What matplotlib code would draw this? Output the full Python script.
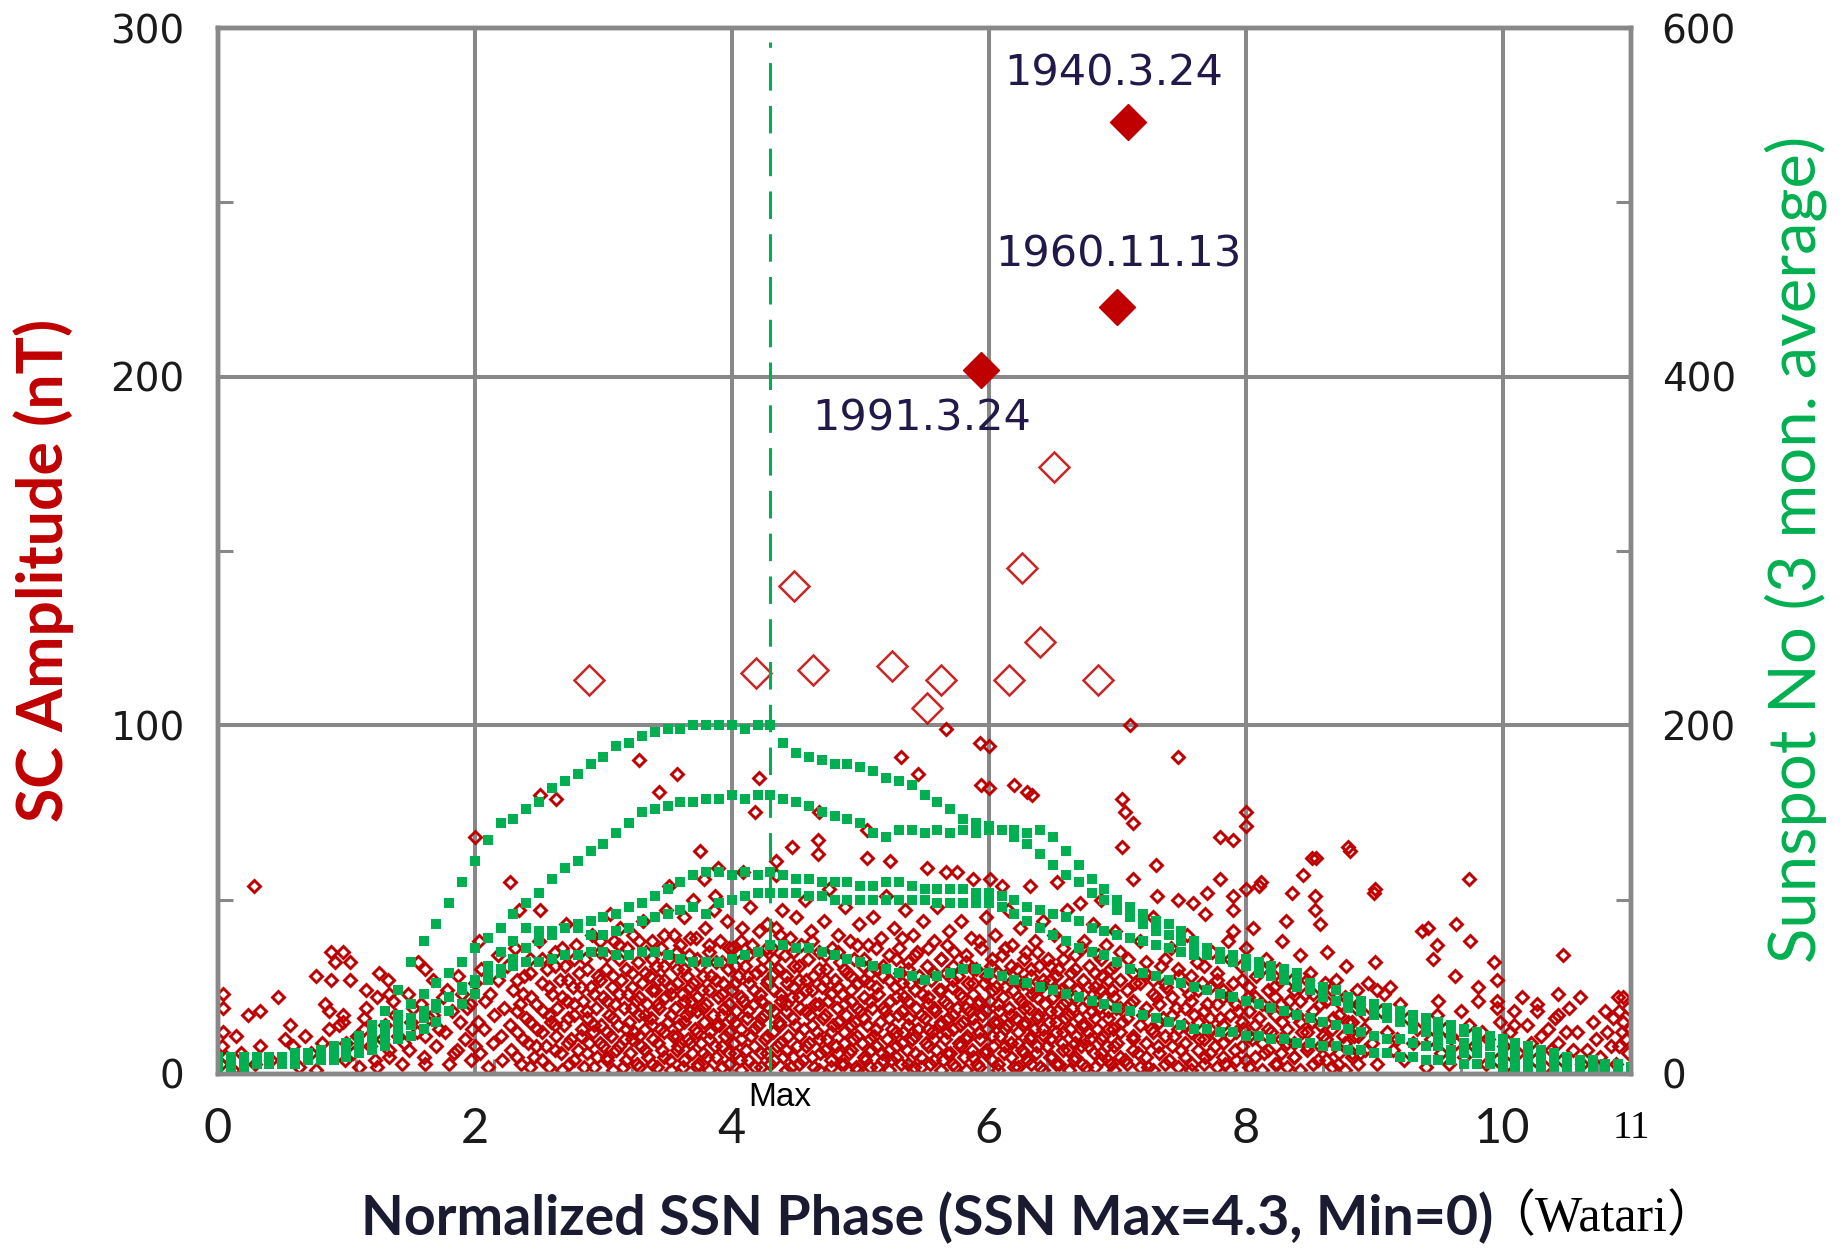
import numpy as np
import matplotlib
matplotlib.use("Agg")
import matplotlib.pyplot as plt
from matplotlib import font_manager as fm
from matplotlib.transforms import blended_transform_factory

# normalized phase grid of the sunspot curves (0 = min, 4.3 = max, 11 = next min)
phase = np.round(np.arange(111) * 0.1, 1)

# sunspot number, 3-month running mean, one list per solar cycle
ssn_a = [8, 8, 8, 10, 10, 10, 12, 12, 14, 16, 18,
         22, 28, 36, 48, 64, 76, 86, 98, 110, 122,
         134, 144, 146, 152, 156, 164, 168, 172, 178, 182,
         188, 190, 194, 196, 198, 198, 200, 200, 200, 200,
         198, 200, 200, 190, 184, 182, 180, 178, 178, 176,
         174, 170, 168, 166, 160, 156, 152, 146, 144, 142,
         140, 140, 138, 140, 136, 128, 120, 112, 106, 100,
         96, 92, 88, 86, 82, 76, 72, 70, 68, 66,
         64, 62, 60, 58, 52, 46, 42, 40, 38, 36,
         34, 32, 30, 28, 26, 26, 24, 22, 20, 18,
         16, 14, 12, 10, 10, 8, 8, 6, 6, 4]
ssn_b = [6, 6, 6, 8, 8, 10, 10, 12, 12, 14, 16,
         20, 24, 28, 34, 40, 46, 52, 58, 64, 72,
         78, 84, 92, 98, 104, 112, 118, 122, 128, 132,
         138, 144, 150, 152, 154, 156, 156, 158, 158, 160,
         158, 160, 160, 158, 156, 154, 150, 148, 146, 144,
         138, 136, 140, 140, 138, 140, 138, 140, 138, 140,
         140, 136, 132, 126, 120, 114, 110, 104, 100, 94,
         90, 86, 82, 80, 76, 74, 70, 66, 64, 62,
         58, 56, 54, 50, 48, 44, 42, 38, 36, 34,
         32, 30, 26, 24, 22, 20, 18, 18, 16, 14,
         12, 12, 10, 10, 8, 8, 6, 6, 4, 4]
ssn_c = [4, 4, 6, 6, 6, 8, 8, 10, 10, 12, 14,
         16, 20, 24, 28, 32, 36, 40, 44, 50, 54,
         62, 70, 76, 84, 82, 82, 84, 86, 88, 90,
         92, 96, 98, 102, 106, 110, 114, 116, 116, 114,
         116, 114, 116, 114, 112, 112, 110, 110, 110, 108,
         108, 110, 110, 108, 106, 106, 106, 106, 104, 104,
         102, 100, 96, 94, 92, 90, 88, 84, 82, 80,
         78, 76, 74, 72, 70, 68, 68, 66, 64, 62,
         60, 58, 56, 54, 52, 50, 48, 44, 42, 40,
         38, 36, 34, 32, 30, 28, 26, 24, 22, 20,
         18, 16, 14, 12, 10, 8, 6, 6, 4, 2]
ssn_d = [10, 10, 10, 10, 8, 8, 8, 8, 8, 10, 10,
         12, 14, 16, 20, 22, 26, 30, 36, 40, 46,
         54, 60, 66, 72, 76, 80, 84, 84, 80, 80,
         82, 84, 88, 90, 92, 94, 96, 92, 98, 100,
         102, 104, 104, 104, 104, 102, 102, 100, 100, 100,
         100, 100, 100, 100, 100, 98, 98, 98, 98, 98,
         96, 92, 88, 84, 80, 76, 72, 70, 68, 64,
         60, 58, 56, 54, 52, 50, 48, 46, 44, 42,
         40, 38, 36, 34, 32, 30, 28, 26, 24, 22,
         20, 20, 18, 16, 16, 14, 12, 12, 10, 10,
         8, 8, 6, 6, 6, 4, 4, 4, 2, 2]
ssn_e = [4, 4, 4, 6, 6, 6, 6, 8, 8, 8, 10,
         12, 16, 20, 24, 28, 32, 38, 44, 48, 52,
         56, 58, 62, 64, 64, 66, 68, 68, 70, 70,
         68, 68, 70, 70, 68, 66, 64, 64, 64, 66,
         68, 70, 74, 74, 72, 72, 70, 68, 66, 64,
         62, 60, 58, 56, 54, 56, 58, 60, 60, 58,
         56, 54, 52, 50, 48, 46, 44, 42, 40, 38,
         36, 34, 32, 30, 28, 26, 26, 24, 24, 22,
         22, 20, 20, 18, 18, 16, 16, 14, 14, 12,
         12, 10, 10, 8, 8, 8, 6, 6, 6, 4,
         4, 4, 4, 2, 2, 2, 2, 2, 2, 2]
ssn_cycles = [ssn_a, ssn_b, ssn_c, ssn_d, ssn_e]

# SC events: (phase, amplitude nT), grouped by phase
sc_0 = [(0.02, 3), (0.03, 8), (0.04, 12), (0.04, 19), (0.04, 23), (0.06, 5), (0.12, 1), (0.14, 11),
        (0.18, 6), (0.23, 17), (0.28, 54), (0.29, 3), (0.33, 18), (0.33, 8), (0.41, 4), (0.47, 22),
        (0.52, 10), (0.56, 14), (0.58, 8), (0.63, 2), (0.68, 11), (0.72, 6), (0.76, 28), (0.76, 1),
        (0.81, 9), (0.83, 20), (0.86, 18), (0.86, 13), (0.88, 27), (0.88, 35), (0.91, 32), (0.94, 14),
        (0.97, 35), (0.97, 17), (0.97, 15), (0.99, 4), (1.00, 9)]
sc_1 = [(1.03, 27), (1.03, 32), (1.05, 6), (1.08, 11), (1.1, 2), (1.14, 16), (1.14, 13), (1.15, 24),
        (1.15, 19), (1.18, 8), (1.22, 4), (1.24, 22), (1.24, 2), (1.25, 29), (1.28, 10), (1.3, 14),
        (1.32, 27), (1.33, 23), (1.33, 5), (1.33, 7), (1.36, 21), (1.38, 17), (1.4, 11), (1.43, 3),
        (1.45, 9), (1.48, 23), (1.49, 7), (1.5, 15), (1.52, 19), (1.55, 12), (1.56, 32), (1.58, 20),
        (1.6, 5), (1.61, 30), (1.61, 11), (1.61, 3), (1.64, 16), (1.67, 27), (1.67, 17), (1.7, 8),
        (1.72, 13), (1.75, 22), (1.77, 12), (1.78, 24), (1.8, 3), (1.82, 18), (1.84, 6), (1.86, 7),
        (1.87, 28), (1.88, 15), (1.9, 23), (1.92, 10), (1.94, 19), (1.96, 20), (1.97, 4), (1.98, 13),
        (2.0, 26), (2.0, 8), (2.0, 68)]
sc_2 = [(2.02, 15), (2.03, 38), (2.04, 6), (2.05, 30), (2.07, 13), (2.08, 21), (2.1, 2), (2.12, 23),
        (2.14, 9), (2.15, 17), (2.18, 34), (2.18, 27), (2.2, 11), (2.21, 4), (2.23, 19), (2.25, 31),
        (2.27, 55), (2.27, 14), (2.28, 7), (2.3, 24), (2.31, 36), (2.33, 12), (2.34, 47), (2.35, 20),
        (2.36, 3), (2.38, 28), (2.4, 16), (2.41, 9), (2.43, 33), (2.44, 22), (2.46, 5), (2.48, 13),
        (2.5, 38), (2.51, 80), (2.51, 47), (2.52, 26), (2.53, 18), (2.55, 8), (2.56, 30), (2.58, 2),
        (2.59, 15), (2.6, 23), (2.62, 35), (2.63, 79), (2.63, 11), (2.64, 19), (2.66, 27), (2.67, 6),
        (2.69, 14), (2.7, 31), (2.71, 43), (2.72, 21), (2.73, 3), (2.75, 10), (2.76, 25), (2.77, 17),
        (2.79, 37), (2.8, 7), (2.81, 29), (2.83, 13), (2.84, 21), (2.85, 2), (2.86, 33), (2.87, 16),
        (2.89, 9), (2.9, 25), (2.91, 40), (2.92, 12), (2.94, 19), (2.95, 5), (2.96, 28), (2.97, 35),
        (2.98, 14), (3.0, 22), (3.0, 8)]
sc_3 = [(3.02, 30), (3.03, 4), (3.04, 17), (3.05, 46), (3.06, 11), (3.07, 25), (3.08, 38), (3.09, 20),
        (3.1, 7), (3.11, 14), (3.12, 33), (3.13, 42), (3.14, 27), (3.15, 2), (3.16, 19), (3.17, 10),
        (3.18, 36), (3.19, 23), (3.2, 15), (3.21, 6), (3.22, 29), (3.23, 40), (3.24, 12), (3.25, 21),
        (3.26, 3), (3.27, 32), (3.28, 90), (3.28, 17), (3.29, 8), (3.3, 26), (3.31, 44), (3.32, 13),
        (3.33, 35), (3.34, 20), (3.35, 5), (3.36, 28), (3.37, 16), (3.38, 38), (3.39, 10), (3.4, 24),
        (3.41, 31), (3.42, 2), (3.43, 81), (3.43, 19), (3.44, 13), (3.45, 36), (3.46, 7), (3.47, 27),
        (3.48, 22), (3.49, 47), (3.5, 15), (3.51, 54), (3.51, 33), (3.52, 4), (3.53, 25), (3.54, 11),
        (3.55, 40), (3.56, 19), (3.57, 86), (3.57, 30), (3.58, 8), (3.59, 14), (3.6, 37), (3.61, 23),
        (3.62, 2), (3.63, 45), (3.64, 17), (3.65, 28), (3.66, 10), (3.67, 34), (3.68, 21), (3.69, 6),
        (3.7, 50), (3.7, 26), (3.71, 13), (3.72, 39), (3.73, 18), (3.74, 3), (3.75, 64), (3.75, 31),
        (3.76, 9), (3.77, 24), (3.78, 56), (3.78, 15), (3.79, 42), (3.8, 20), (3.81, 5), (3.82, 35),
        (3.83, 12), (3.84, 28), (3.85, 17), (3.86, 47), (3.87, 51), (3.87, 8), (3.88, 32), (3.89, 59),
        (3.89, 22), (3.9, 14), (3.91, 38), (3.92, 2), (3.93, 26), (3.94, 19), (3.95, 11), (3.96, 44),
        (3.97, 30), (3.98, 6), (3.99, 16)]
sc_4 = [(4.0, 24), (4.01, 36), (4.02, 9), (4.03, 18), (4.04, 35), (4.05, 28), (4.06, 4), (4.07, 13),
        (4.08, 42), (4.09, 58), (4.09, 21), (4.1, 31), (4.11, 7), (4.12, 16), (4.13, 26), (4.14, 48),
        (4.15, 11), (4.16, 37), (4.17, 20), (4.18, 75), (4.18, 2), (4.19, 29), (4.2, 14), (4.21, 85),
        (4.21, 41), (4.22, 23), (4.23, 6), (4.24, 33), (4.25, 17), (4.26, 10), (4.27, 43), (4.28, 27),
        (4.29, 19), (4.3, 3), (4.31, 36), (4.32, 12), (4.33, 24), (4.34, 61), (4.34, 57), (4.34, 42),
        (4.35, 8), (4.36, 30), (4.37, 15), (4.38, 21), (4.39, 47), (4.4, 5), (4.41, 34), (4.42, 18),
        (4.43, 26), (4.44, 11), (4.45, 39), (4.46, 2), (4.47, 65), (4.47, 22), (4.48, 31), (4.49, 14),
        (4.5, 45), (4.51, 8), (4.52, 27), (4.53, 19), (4.54, 37), (4.55, 4), (4.56, 13), (4.57, 50),
        (4.58, 24), (4.59, 33), (4.6, 9), (4.61, 17), (4.62, 41), (4.63, 28), (4.64, 2), (4.65, 20),
        (4.66, 12), (4.67, 67), (4.67, 63), (4.68, 75), (4.68, 35), (4.69, 6), (4.7, 25), (4.71, 16),
        (4.72, 44), (4.73, 30), (4.74, 10), (4.75, 21), (4.76, 53), (4.77, 4), (4.78, 36), (4.79, 14),
        (4.8, 27), (4.81, 8), (4.82, 19), (4.83, 40), (4.84, 32), (4.85, 3), (4.86, 23), (4.87, 12),
        (4.88, 48), (4.89, 17), (4.9, 29), (4.91, 6), (4.92, 38), (4.93, 21), (4.94, 10), (4.95, 33),
        (4.96, 15), (4.97, 2), (4.98, 26), (4.99, 43)]
sc_5 = [(5.0, 18), (5.01, 9), (5.02, 31), (5.03, 22), (5.04, 4), (5.05, 62), (5.05, 70), (5.05, 14),
        (5.06, 37), (5.07, 26), (5.08, 7), (5.09, 19), (5.1, 45), (5.11, 11), (5.12, 30), (5.13, 2),
        (5.14, 23), (5.15, 15), (5.16, 39), (5.17, 6), (5.18, 28), (5.19, 18), (5.2, 51), (5.21, 10),
        (5.22, 34), (5.23, 61), (5.23, 21), (5.24, 4), (5.25, 13), (5.26, 42), (5.27, 25), (5.28, 8),
        (5.29, 17), (5.3, 36), (5.31, 29), (5.32, 91), (5.32, 3), (5.33, 12), (5.34, 22), (5.35, 47),
        (5.36, 7), (5.37, 32), (5.38, 16), (5.39, 26), (5.4, 10), (5.41, 40), (5.42, 2), (5.43, 19),
        (5.44, 35), (5.45, 86), (5.45, 13), (5.46, 28), (5.47, 5), (5.48, 23), (5.49, 44), (5.5, 16),
        (5.51, 9), (5.52, 59), (5.52, 31), (5.53, 20), (5.54, 3), (5.55, 27), (5.56, 12), (5.57, 38),
        (5.58, 18), (5.59, 7), (5.6, 48), (5.61, 24), (5.62, 14), (5.63, 33), (5.64, 4), (5.65, 21),
        (5.66, 10), (5.67, 99), (5.67, 58), (5.67, 29), (5.68, 16), (5.69, 41), (5.7, 6), (5.71, 25),
        (5.72, 13), (5.73, 35), (5.74, 2), (5.75, 58), (5.75, 19), (5.76, 28), (5.77, 9), (5.78, 44),
        (5.79, 22), (5.8, 15), (5.81, 5), (5.82, 32), (5.83, 11), (5.84, 26), (5.85, 18), (5.86, 39),
        (5.87, 7), (5.88, 56), (5.88, 23), (5.89, 14), (5.9, 30), (5.91, 3), (5.92, 20), (5.93, 95),
        (5.93, 10), (5.94, 83), (5.94, 36), (5.95, 17), (5.96, 26), (5.97, 6), (5.98, 45), (5.99, 13)]
sc_6 = [(6.0, 94), (6.0, 82), (6.01, 56), (6.01, 21), (6.02, 31), (6.03, 8), (6.04, 15), (6.05, 40),
        (6.06, 25), (6.07, 3), (6.08, 18), (6.09, 11), (6.1, 54), (6.1, 34), (6.11, 22), (6.12, 6),
        (6.13, 28), (6.14, 14), (6.15, 47), (6.16, 19), (6.17, 9), (6.18, 37), (6.19, 24), (6.2, 83),
        (6.2, 2), (6.21, 16), (6.22, 30), (6.23, 12), (6.24, 42), (6.25, 21), (6.26, 7), (6.27, 26),
        (6.28, 15), (6.29, 35), (6.3, 81), (6.3, 4), (6.31, 19), (6.32, 54), (6.32, 10), (6.33, 28),
        (6.34, 80), (6.34, 23), (6.35, 13), (6.36, 38), (6.37, 6), (6.38, 17), (6.39, 31), (6.4, 2),
        (6.41, 25), (6.42, 44), (6.43, 11), (6.44, 20), (6.45, 8), (6.46, 33), (6.47, 15), (6.48, 27),
        (6.49, 5), (6.5, 22), (6.51, 40), (6.52, 12), (6.53, 55), (6.53, 18), (6.54, 30), (6.55, 3),
        (6.56, 24), (6.57, 9), (6.58, 36), (6.59, 16), (6.6, 21), (6.61, 47), (6.62, 7), (6.63, 13),
        (6.64, 29), (6.65, 19), (6.66, 4), (6.67, 34), (6.68, 11), (6.69, 24), (6.7, 16), (6.71, 49),
        (6.72, 8), (6.73, 27), (6.74, 38), (6.75, 14), (6.76, 2), (6.77, 21), (6.78, 31), (6.79, 10),
        (6.8, 18), (6.81, 43), (6.82, 6), (6.83, 25), (6.84, 13), (6.85, 34), (6.86, 19), (6.87, 50),
        (6.87, 4), (6.88, 28), (6.89, 11), (6.9, 22), (6.91, 37), (6.92, 8), (6.93, 16), (6.94, 30),
        (6.95, 3), (6.96, 24), (6.97, 13), (6.98, 41), (6.99, 19)]
sc_7 = [(7.0, 9), (7.02, 27), (7.04, 79), (7.04, 65), (7.04, 15), (7.06, 75), (7.06, 4), (7.08, 33),
        (7.1, 100), (7.1, 20), (7.12, 72), (7.12, 56), (7.12, 11), (7.14, 26), (7.16, 6), (7.18, 38),
        (7.2, 17), (7.22, 29), (7.24, 2), (7.26, 13), (7.28, 45), (7.3, 60), (7.3, 22), (7.31, 51),
        (7.32, 8), (7.34, 31), (7.36, 16), (7.38, 25), (7.4, 4), (7.42, 36), (7.44, 11), (7.46, 19),
        (7.47, 91), (7.47, 50), (7.48, 28), (7.5, 7), (7.52, 14), (7.54, 40), (7.56, 23), (7.58, 3),
        (7.59, 49), (7.6, 17), (7.62, 32), (7.64, 10), (7.66, 26), (7.68, 46), (7.68, 5), (7.7, 52),
        (7.7, 20), (7.72, 13), (7.74, 35), (7.76, 8), (7.78, 29), (7.8, 68), (7.8, 56), (7.8, 16),
        (7.82, 22), (7.84, 3), (7.86, 38), (7.88, 11), (7.9, 67), (7.9, 51), (7.9, 47), (7.9, 41),
        (7.9, 26), (7.92, 7), (7.94, 18), (7.96, 31), (7.98, 13), (8.0, 75), (8.0, 71), (8.0, 53),
        (8.0, 36), (8.0, 4)]
sc_8 = [(8.02, 22), (8.05, 10), (8.06, 42), (8.08, 28), (8.1, 54), (8.1, 16), (8.12, 55), (8.14, 6),
        (8.16, 33), (8.18, 19), (8.2, 12), (8.22, 25), (8.24, 3), (8.26, 30), (8.28, 38), (8.28, 15),
        (8.31, 44), (8.32, 9), (8.34, 21), (8.36, 52), (8.36, 27), (8.38, 5), (8.4, 17), (8.42, 34),
        (8.44, 12), (8.45, 57), (8.46, 23), (8.48, 8), (8.5, 29), (8.52, 62), (8.52, 15), (8.54, 51),
        (8.54, 47), (8.55, 62), (8.56, 4), (8.58, 43), (8.58, 20), (8.6, 11), (8.62, 26), (8.63, 35),
        (8.65, 7), (8.68, 16), (8.7, 27), (8.72, 3), (8.74, 20), (8.76, 11), (8.78, 31), (8.8, 65),
        (8.8, 15), (8.81, 64), (8.83, 6), (8.84, 11), (8.86, 19), (8.87, 24), (8.89, 6), (8.92, 13),
        (8.95, 26), (8.98, 9)]
sc_9 = [(9.0, 52), (9.01, 53), (9.01, 32), (9.02, 24), (9.02, 3), (9.05, 18), (9.08, 23), (9.1, 12),
        (9.12, 25), (9.15, 7), (9.18, 10), (9.2, 20), (9.23, 4), (9.26, 16), (9.3, 9), (9.33, 13),
        (9.37, 41), (9.4, 2), (9.42, 42), (9.44, 10), (9.46, 33), (9.49, 37), (9.49, 17), (9.5, 21),
        (9.52, 6), (9.55, 13), (9.58, 3), (9.6, 11), (9.63, 28), (9.64, 43), (9.64, 9), (9.68, 18),
        (9.7, 5), (9.74, 56), (9.74, 14), (9.75, 38), (9.78, 8), (9.81, 25), (9.81, 21), (9.84, 12),
        (9.87, 3), (9.89, 10), (9.93, 32), (9.96, 27), (9.96, 21), (9.96, 19), (9.96, 4), (9.98, 15)]
sc_10 = [(10.01, 8), (10.04, 3), (10.06, 12), (10.09, 18), (10.09, 14), (10.12, 6), (10.15, 22),
         (10.19, 14), (10.22, 9), (10.25, 4), (10.27, 20), (10.27, 18), (10.3, 11), (10.33, 2),
         (10.35, 13), (10.38, 7), (10.41, 16), (10.43, 23), (10.43, 17), (10.43, 9), (10.46, 4),
         (10.47, 34), (10.49, 12), (10.52, 19), (10.55, 7), (10.58, 12), (10.6, 22), (10.62, 3),
         (10.66, 7), (10.7, 15), (10.73, 10), (10.76, 5), (10.8, 18), (10.81, 12), (10.84, 8),
         (10.86, 16), (10.88, 3), (10.9, 22), (10.91, 18), (10.91, 8), (10.93, 12), (10.94, 22),
         (10.94, 15), (10.96, 10), (10.98, 6), (10.98, 19), (10.99, 13)]

# the crowded low-amplitude events, listed as (phase, [amplitudes])
core_2_4 = [(2.325, [5, 18, 27]), (2.375, [10, 23]), (2.425, [2, 15, 29]), (2.475, [8, 20]),
            (2.525, [4, 12, 33]), (2.575, [17, 25]), (2.625, [7, 14, 31]), (2.675, [1, 22, 36]),
            (2.725, [9, 16, 27]), (2.775, [4, 20, 33]), (2.825, [11, 25]), (2.875, [6, 18, 30]),
            (2.925, [2, 14, 23]), (2.975, [9, 27, 38]), (3.025, [5, 12, 21, 34]), (3.075, [1, 16, 28]),
            (3.125, [8, 23, 37]), (3.175, [4, 13, 30]), (3.225, [10, 19, 25]), (3.275, [2, 11, 22, 38]),
            (3.325, [7, 17, 29]), (3.375, [3, 14, 24, 33]), (3.425, [9, 20, 27]), (3.475, [5, 12, 31, 40]),
            (3.525, [1, 17, 23]), (3.575, [7, 11, 26, 35]), (3.625, [4, 15, 21, 30]),
            (3.675, [9, 18, 25, 39]), (3.725, [2, 12, 22, 33]), (3.775, [6, 19, 28]),
            (3.825, [1, 10, 24, 37]), (3.875, [5, 14, 27]), (3.925, [8, 17, 23, 32]),
            (3.975, [3, 12, 20, 36])]
core_4_6 = [(4.025, [6, 15, 26, 31]), (4.075, [1, 10, 22, 38]), (4.125, [4, 18, 28, 34]),
            (4.175, [8, 13, 24]), (4.225, [2, 16, 21, 30]), (4.275, [6, 11, 26, 36]),
            (4.325, [4, 18, 29, 33]), (4.375, [9, 14, 23, 40]), (4.425, [1, 7, 20, 28]),
            (4.475, [5, 16, 25, 35]), (4.525, [3, 11, 22, 31]), (4.575, [8, 18, 27]),
            (4.625, [5, 14, 24, 38]), (4.675, [1, 10, 20, 30]), (4.725, [7, 17, 27, 34]),
            (4.775, [2, 12, 23]), (4.825, [6, 15, 25, 35]), (4.875, [3, 9, 20, 30]),
            (4.925, [7, 14, 24, 28]), (4.975, [1, 11, 19, 37]), (5.025, [5, 16, 27, 33]),
            (5.075, [2, 10, 21, 29]), (5.125, [8, 13, 25, 36]), (5.175, [4, 19, 31]),
            (5.225, [1, 7, 16, 27]), (5.275, [5, 12, 22, 33]), (5.325, [9, 18, 26, 39]),
            (5.375, [3, 14, 21, 30]), (5.425, [6, 11, 24, 34]), (5.475, [2, 17, 26]),
            (5.525, [8, 13, 22, 36]), (5.575, [4, 10, 19, 29]), (5.625, [1, 15, 24, 33]),
            (5.675, [6, 12, 20, 37]), (5.725, [3, 17, 27, 31]), (5.775, [8, 14, 23]),
            (5.825, [1, 10, 19, 34]), (5.875, [5, 16, 26, 30]), (5.925, [2, 12, 21, 38]),
            (5.975, [7, 18, 28])]
core_6_9 = [(6.025, [4, 11, 24, 33]), (6.075, [1, 15, 20, 29]), (6.125, [8, 13, 25, 36]),
            (6.175, [5, 17, 31]), (6.225, [2, 9, 22, 27]), (6.275, [6, 14, 19, 33]),
            (6.325, [3, 11, 25, 30]), (6.375, [8, 16, 22, 35]), (6.425, [1, 13, 27]),
            (6.475, [5, 10, 18, 31]), (6.525, [3, 15, 24, 28]), (6.575, [7, 12, 20, 33]),
            (6.625, [1, 17, 26]), (6.675, [5, 9, 22, 30]), (6.725, [3, 14, 19, 36]),
            (6.775, [8, 12, 25]), (6.825, [2, 16, 21, 29]), (6.875, [6, 10, 24, 33]),
            (6.925, [4, 13, 18, 27]), (6.975, [1, 8, 22, 31]), (7.025, [5, 12, 19, 35]),
            (7.075, [3, 16, 24]), (7.125, [7, 10, 21, 29]), (7.175, [2, 14, 26]),
            (7.225, [5, 9, 19, 32]), (7.275, [1, 12, 23, 27]), (7.325, [6, 15, 20]),
            (7.375, [3, 11, 26, 33]), (7.425, [8, 17, 22]), (7.475, [2, 13, 30]),
            (7.525, [5, 9, 19, 25]), (7.575, [1, 12, 21, 28]), (7.625, [7, 15, 24]),
            (7.675, [3, 10, 18, 31]), (7.725, [6, 16, 25]), (7.775, [2, 11, 20, 27]),
            (7.825, [5, 9, 14, 24]), (7.875, [1, 17, 22, 33]), (7.925, [4, 12, 20]),
            (7.975, [8, 15, 27]), (8.025, [2, 11, 18, 25]), (8.075, [5, 14, 22]),
            (8.125, [1, 9, 20, 30]), (8.175, [7, 13, 24]), (8.225, [3, 17, 22]),
            (8.275, [6, 10, 20, 27]), (8.325, [2, 13, 18]), (8.375, [5, 9, 24]),
            (8.425, [1, 15, 21]), (8.475, [7, 12, 27]), (8.525, [3, 18, 23]), (8.575, [8, 14]),
            (8.625, [4, 10, 21]), (8.675, [2, 13, 24]), (8.725, [6, 17]), (8.775, [1, 9, 22]),
            (8.825, [5, 15]), (8.875, [3, 11, 20]), (8.925, [7, 17])]

sc_bins = [sc_0, sc_1, sc_2, sc_3, sc_4, sc_5, sc_6, sc_7, sc_8, sc_9, sc_10]
core_bins = [core_2_4, core_4_6, core_6_9]

# large events (> 100 nT)
big_x = [2.89, 4.19, 4.48, 4.63, 5.25, 5.63, 5.52, 6.51, 6.26, 6.40, 6.16, 6.85]
big_y = [113, 115, 140, 116, 117, 113, 105, 174, 145, 124, 113, 113]

# largest three events
top_x = [7.08, 7.00, 5.94]
top_y = [273, 220, 202]
top_labels = ["1940.3.24", "1960.11.13", "1991.3.24"]

ssn_max_phase = 4.3

RED = "#c00000"
GREEN = "#00b050"
GRID = "#888888"
INK = "#1a1a1a"

fig = plt.figure(figsize=(18.43, 12.51), dpi=100)
ax = fig.add_axes([0.1183, 0.1415, 0.7667, 0.8361])
ax2 = ax.twinx()

ax.set_xlim(0, 11)
ax.set_ylim(0, 300)
ax2.set_ylim(0, 600)

# grid and frame
ax.set_xticks([0, 2, 4, 6, 8, 10])
ax.set_yticks([0, 100, 200, 300])
ax.grid(True, color=GRID, linewidth=2.9)
ax.set_axisbelow(True)
for a in (ax, ax2):
    for s in a.spines.values():
        s.set_color(GRID)
        s.set_linewidth(3.2)

ax.set_xticks([ssn_max_phase * k / 4 for k in range(1, 11)], minor=True)
ax.set_yticks([50, 150, 250], minor=True)
ax2.set_yticks([0, 200, 400, 600])
ax2.set_yticks([100, 300, 500], minor=True)

ax.tick_params(axis="both", which="major", length=0)
ax.tick_params(axis="x", which="major", pad=24, labelsize=35, labelcolor=INK)
ax.tick_params(axis="y", which="major", pad=24, labelsize=28, labelcolor=INK)
ax.tick_params(which="minor", direction="in", length=11, width=2.2, color=GRID)
ax2.tick_params(axis="y", which="major", length=0, pad=22, labelsize=28, labelcolor=INK)
ax2.tick_params(axis="y", which="minor", direction="in", length=11, width=2.2, color=GRID)
for lab in ax.get_xticklabels():
    lab.set_fontfamily("Lato")
for lab in ax.get_yticklabels() + ax2.get_yticklabels():
    lab.set_fontfamily("DejaVu Sans")

# SC amplitudes
sc = [p for b in sc_bins for p in b]
sc += [(x, y) for b in core_bins for x, ys in b for y in ys]
sc = np.array(sc)
ax.plot(sc[:, 0], sc[:, 1], linestyle="none", marker="D", markersize=5.8,
        markerfacecolor="none", markeredgecolor=RED, markeredgewidth=2.1)
ax.plot(big_x, big_y, linestyle="none", marker="D", markersize=15,
        markerfacecolor="none", markeredgecolor=RED, markeredgewidth=1.8, alpha=0.85)
ax.plot(top_x, top_y, linestyle="none", marker="D", markersize=18.5, color=RED)

label_pos = [(6.97, 287), (7.01, 235), (5.48, 188)]
for txt, (lx, ly) in zip(top_labels, label_pos):
    ax.text(lx, ly, txt, ha="center", va="center", fontsize=31,
            family="DejaVu Sans", color="#22184a")

# solar max marker
ax.axvline(ssn_max_phase, ymin=0, ymax=296 / 300, color=GREEN, linewidth=2.2,
           dashes=(9, 5), zorder=3)
tb = blended_transform_factory(ax.transData, ax.transAxes)
narrow = "Liberation Sans Narrow" if any(f.name == "Liberation Sans Narrow"
                                         for f in fm.fontManager.ttflist) else "Liberation Sans"
ax.text(4.37, -0.008, "Max", transform=tb, ha="center", va="top", fontsize=24,
        family=narrow, color="black")
ax.text(11, -0.034, "11", transform=tb, ha="center", va="top", fontsize=28,
        family="Liberation Serif", color="black")

# sunspot cycles on the right axis
for cyc in ssn_cycles:
    ax2.plot(phase, cyc, linestyle="none", marker="s", markersize=6.6,
             color=GREEN, markeredgewidth=0)

# axis titles
fig.text(0.0236, 0.5444, "SC Amplitude (nT)", rotation=90, ha="center", va="center",
         fontsize=45, family="Lato", weight="bold", color=RED)
fig.text(0.9745, 0.561, "Sunspot No (3 mon. average)", rotation=90, ha="center",
         va="center", fontsize=47, family="Lato", color=GREEN)
fig.text(0.503, 0.0264, "Normalized SSN Phase (SSN Max=4.3, Min=0)", ha="center",
         va="center", fontsize=40, family="Lato", weight="bold", color="#1a1a30")
fig.text(0.8687, 0.0264, "（Watari）", ha="center", va="center", fontsize=36,
         family=["Liberation Serif", "Noto Sans CJK JP"], color="black")

fig.savefig("out.png", dpi=100)
